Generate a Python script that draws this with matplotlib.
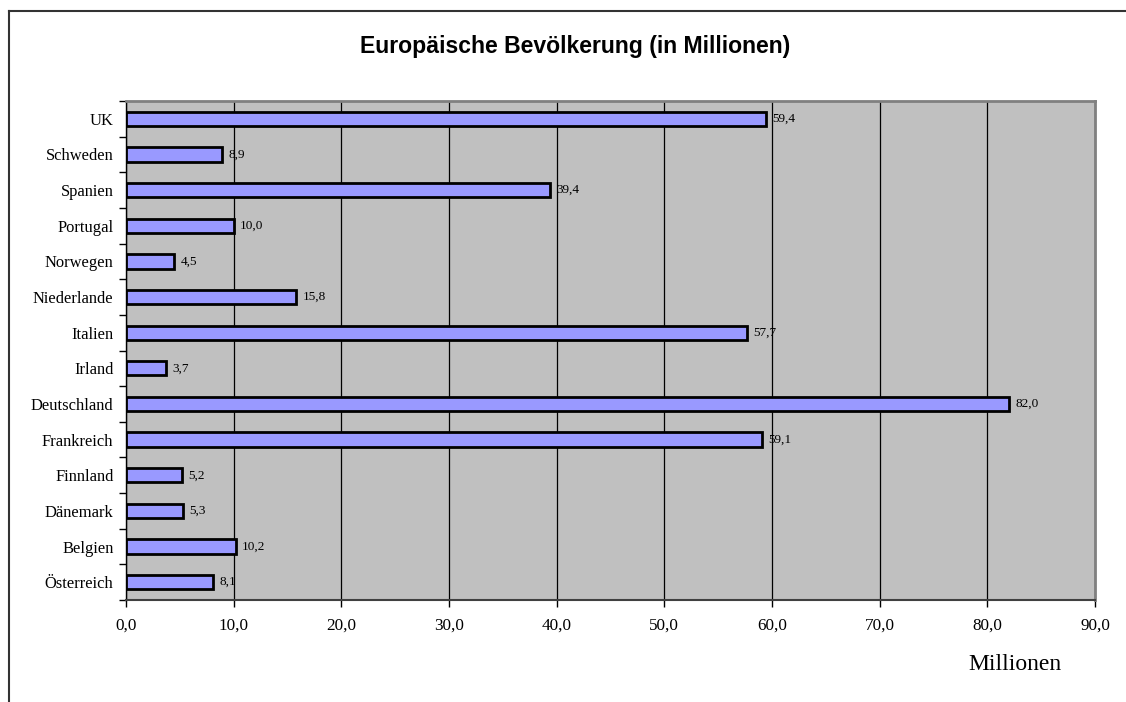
import matplotlib
matplotlib.use("Agg")
import matplotlib.pyplot as plt
from matplotlib.lines import Line2D
import numpy as np

countries = ["Österreich", "Belgien", "Dänemark", "Finnland", "Frankreich", "Deutschland",
             "Irland", "Italien", "Niederlande", "Norwegen", "Portugal", "Spanien",
             "Schweden", "UK"]
values = [8.1, 10.2, 5.3, 5.2, 59.1, 82.0, 3.7, 57.7, 15.8, 4.5, 10.0, 39.4, 8.9, 59.4]
x_ticks = [0, 10, 20, 30, 40, 50, 60, 70, 80, 90]
x_ticklabels = ["0,0", "10,0", "20,0", "30,0", "40,0", "50,0", "60,0", "70,0", "80,0", "90,0"]
title = "Europäische Bevölkerung (in Millionen)"
xlabel = "Millionen"

serif = ["Liberation Serif", "DejaVu Serif"]
sans = ["Liberation Sans", "DejaVu Sans"]

fig = plt.figure(figsize=(11.26, 7.02), dpi=100)
ax = fig.add_axes([126/1126, 1-600/702, (1095-126)/1126, (600-101)/702])
ax.set_facecolor("#C0C0C0")

y = np.arange(len(countries))
ax.barh(y, values, height=0.4, color="#9999FF", edgecolor="black", linewidth=2, zorder=3)
for yi, v in zip(y, values):
    ax.annotate(f"{v:.1f}".replace(".", ","), (v, yi), xytext=(4.5, 0), textcoords="offset points",
                va="center", ha="left", fontsize=9.5, family=serif, zorder=4)

ax.set_xlim(0, 90)
ax.set_ylim(-0.5, len(countries)-0.5)
ax.set_xticks(x_ticks)
ax.set_xticklabels(x_ticklabels, family=serif, fontsize=12.3)
ax.set_yticks(y)
ax.set_yticklabels(countries, family=serif, fontsize=11.9)
ax.set_yticks(np.arange(-0.5, len(countries), 1), minor=True)
ax.tick_params(axis="y", which="major", length=0, pad=9)
ax.tick_params(axis="y", which="minor", length=5, width=1, direction="out", color="black")
ax.tick_params(axis="x", which="major", length=5, width=1, direction="out", pad=8, color="black")
ax.grid(axis="x", color="black", linewidth=0.9, zorder=1)
ax.set_axisbelow(True)

for s in ["top", "right"]:
    ax.spines[s].set_color("#808080")
    ax.spines[s].set_linewidth(2)
ax.spines["left"].set_color("black")
ax.spines["left"].set_linewidth(1)
ax.spines["bottom"].set_color("#404040")
ax.spines["bottom"].set_linewidth(1.5)

fig.text(575/1126, 1-47/702, title, ha="center", va="center", fontsize=16.6,
         fontweight="bold", family=sans)
fig.text(1015/1126, 1-664/702, xlabel, ha="center", va="center", fontsize=17, family=serif)

# outer chart border (clipped: only top and left visible)
fig.add_artist(Line2D([9/1126, 9/1126], [0, 1-11/702], transform=fig.transFigure,
                      color="#333333", linewidth=1.5))
fig.add_artist(Line2D([9/1126, 1], [1-11/702, 1-11/702], transform=fig.transFigure,
                      color="#333333", linewidth=1.5))

fig.savefig("out.png", dpi=100)
